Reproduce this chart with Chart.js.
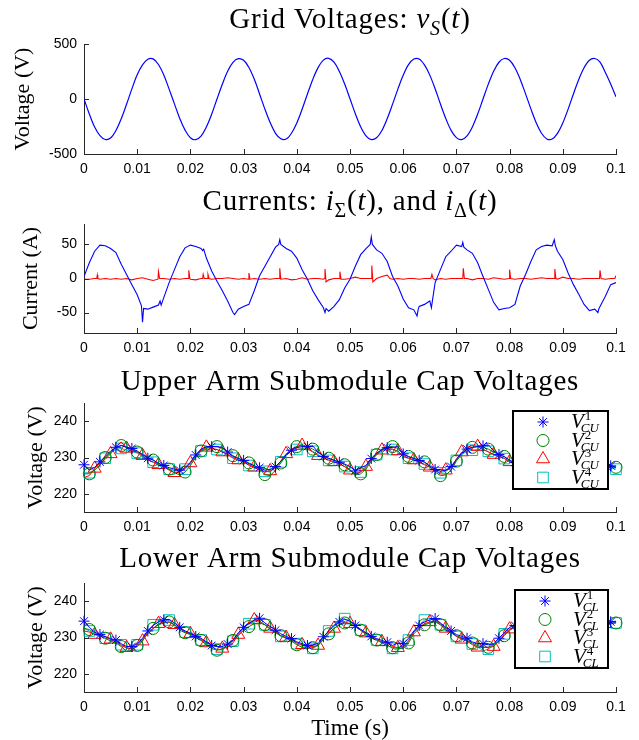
<!DOCTYPE html>
<html>
<head>
<meta charset="utf-8">
<script src="https://cdn.jsdelivr.net/npm/chart.js@4.4.1/dist/chart.umd.min.js"></script>
<style>
  body { margin: 0; background: #fff; }
  #wrap { position: relative; width: 639px; height: 740px; }
  #wrap canvas { position: absolute; left: 0; }
</style>
</head>
<body>
<div id="wrap">
  <canvas id="chartGrid" width="639" height="180" style="top:0px"></canvas>
  <canvas id="chartCurr" width="639" height="180" style="top:180px"></canvas>
  <canvas id="chartUpper" width="639" height="180" style="top:360px"></canvas>
  <canvas id="chartLower" width="639" height="200" style="top:540px"></canvas>
</div>
<script>
// sample times in ms
var timeMs = [0,1,2,3,4,5,6,7,8,9,10,11,12,13,14,15,16,17,18,19,20,21,22,23,24,25,26,27,28,29,30,31,32,33,34,35,36,37,38,39,40,41,42,43,44,45,46,47,48,49,50,51,52,53,54,55,56,57,58,59,60,61,62,63,64,65,66,67,68,69,70,71,72,73,74,75,76,77,78,79,80,81,82,83,84,85,86,87,88,89,90,91,92,93,94,95,96,97,98,99,100];

var xTicks = [0, 0.01, 0.02, 0.03, 0.04, 0.05, 0.06, 0.07, 0.08, 0.09, 0.1];
var yTicksGrid = [-500, 0, 500];
var yTicksCurr = [-50, 0, 50];
var yTicksCap = [220, 230, 240];

// grid voltage v_S (V)
var vGrid = [0,-136,-255,-333,-368,-355,-287,-180,-48,92,
  220,310,362,365,314,218,90,-44,-178,-283,
  -352,-370,-337,-254,-138,0,134,252,333,367,
  352,287,181,46,-92,-215,-312,-362,-364,-311,
  -218,-93,46,178,285,353,370,335,250,136,
  2,-134,-253,-335,-369,-352,-286,-178,-47,90,
  216,312,363,364,310,217,93,-46,-177,-285,
  -351,-369,-335,-254,-137,0,135,253,334,368,
  352,284,178,47,-90,-216,-311,-363,-364,-312,
  -218,-92,46,177,284,352,368,335,240,136,
  20];

// i_sigma (blue), times in ms
var iSigmaT = [0,1,2,3,4,5,6,7,8,9,
  10,10.8,11,11.2,12,13,14,14.3,14.5,15,
  16,17,18,19,20,21,22,22.3,22.5,23,
  24,25,26,27,28,28.3,29,30,31,32,
  33,34,35,36,36.6,36.8,37,38,39,40,
  41,42,43,44,45,45.3,45.5,46,47,48,
  49,50,51,52,53,53.8,54,54.2,55,56,
  57,58,59,60,61,62,62.6,62.8,63,64,
  65,65.3,65.5,66,67,68,69,70,71,71.2,
  71.4,72,73,74,75,76,77,78,79,80,
  81,82,83,84,85,86,87,88,88.4,88.6,
  89,90,91,92,93,94,95,96,96.6,96.8,
  97,98,99,100];
var iSigma = [3,23,40,49,48,44,38,21,6,-9,
  -24,-40,-64,-44,-45,-42,-39,-33,-39,-28,
  -6,13,32,45,49,47,44,41,43,30,
  11,-4,-18,-33,-50,-53,-45,-41,-38,-18,
  4,18,32,46,50,57,50,44,40,30,
  13,-1,-18,-31,-43,-50,-44,-48,-41,-31,
  -14,-1,18,35,44,50,61,50,42,37,
  25,3,-11,-30,-43,-46,-55,-46,-41,-38,
  -33,-43,-32,-6,13,32,40,49,47,53,
  46,42,37,23,3,-16,-35,-46,-44,-43,
  -38,-11,6,25,42,47,49,48,57,48,
  40,28,8,-9,-23,-38,-47,-45,-50,-44,
  -41,-26,-9,-6];

// i_delta (red), times in ms
var iDeltaT = [0,1,2,2.4,2.5,2.6,3,4,5,6,
  7,8,9,10,11,12,13,13.9,14,14.2,
  15,16,17,18,19,19.6,19.7,19.9,20,21,
  22,22.3,22.4,22.6,23.2,23.3,23.5,24,25,26,
  27,28,29,30,30.9,31,31.2,32,33,34,
  35,36,36.7,36.8,37,38,39,40,41,42,
  43,44,45,45.2,45.3,45.5,46,47,48,48.1,
  48.3,49,50,51,52,53,54,54.1,54.3,55,
  56,57,57.5,58,59,60,61,62,63,64,
  65.2,65.4,65.6,66,67,68,69,70,71.2,71.3,
  71.5,72,73,74,75,76,77,78,79,79.9,
  80,80.2,81,82,83,84,85,86,87,88.4,
  88.5,88.7,89,90,91,92,93,94,95,96,
  96.9,97,97.2,98,99,99.8,99.9,100];
var iDelta = [-1,-1,0,0,5,0,-1,0,-1,0,
  -1,0,-2,0,1,-1,-3,-1,10,0,
  0,-1,0,-1,0,0,12,0,-1,-2,
  0,0,6,0,0,6,0,-1,0,0,
  1,0,-1,0,-1,8,-1,0,-1,0,
  -1,0,0,15,-1,0,-2,-1,1,-1,
  0,0,-1,0,14,-5,-2,0,0,10,
  -1,-1,0,2,0,0,0,19,-5,0,
  3,5,0,-1,0,-1,0,0,-1,0,
  0,6,0,-2,0,-1,0,0,0,15,
  0,0,-2,0,0,-1,1,0,-1,0,
  13,0,-1,0,0,-1,0,1,0,0,
  14,0,-1,2,0,0,-1,0,0,0,
  0,12,0,-1,0,0,3,2];

// upper arm submodule cap voltages (V)
var vCU1 = [228,226.5,227.3,228.8,230.3,231.8,232.8,233.3,232.8,232.5,
  231.8,230.8,229.8,229.3,228.3,227.8,227.2,226.8,226.5,227.2,
  228.7,230.7,232.3,233,233,233,232.8,231.5,230.3,229.7,
  229.2,228.3,227.7,227.2,226.5,226.7,227.5,229,230.8,232,
  232.7,233,233,233.2,231.5,230.3,229.7,229.2,228.7,228.2,
  227.5,226.3,227.2,227.8,229.7,231.2,232.2,232.7,232.8,233,
  231,230.2,229.7,229.2,228.7,227.7,226.7,226.2,226.5,227.5,
  229.5,231.2,232.3,232.8,233,233.2,233.5,231.8,230.8,230.2,
  229.2,228.7,227.7,227,226.5,226.7,227.7,229.7,231.2,232.3,
  232.8,233,233,232,230.8,230.2,229.7,228.7,228.2,227.7,
  227.3];
var vCU2 = [225.5,225.5,226.5,228,230,231.5,232.8,233.3,233,232.3,
  231.5,230.8,230,229.3,228.5,227.8,226.8,225.8,225.2,226,
  227.8,230,231.8,232.5,233,233,232.5,231.5,230.5,229.8,
  229.3,228.5,227.8,226.8,225.3,225,226.5,228.5,230.5,232,
  233,233.5,233,232.3,231.5,230.5,229.8,229.3,228.8,228,
  226.5,225.2,225.5,226.8,229,230.8,232.3,233,233,232.5,
  231,230.3,229.8,229.3,228.8,227.5,226,225,225.2,226.5,
  229,231,232.3,232.8,233,232.8,232.3,231.5,230.8,230.3,
  229.3,228.3,227,226,225.5,225.8,227,229,230.8,232.3,
  233,233.2,232.8,232,231,230.3,229.8,228.8,228.3,227.8,
  227.3];
var vCU3 = [224.5,225,227,228.5,229.5,231,233,234.3,232.5,231.8,
  231.5,230.5,229.3,228.8,228,227.5,226.5,225.8,226,227,
  228.5,230.5,232,232.8,232.5,232.2,231.5,230.8,230,229.3,
  228.8,228,227.3,226.5,226,226.3,227.3,229,231,232.3,
  233,233.3,232.5,231.5,230.5,230,229.3,228.8,228.3,227.5,
  226.5,225.5,226,227.5,229.5,231,232,232.5,232.3,231.8,
  230.3,229.8,229.3,228.8,228,227.3,226.5,226.8,226.5,227.3,
  229.5,231.5,232.8,233.3,233,232.3,231.5,230.8,230.3,229.8,
  228.8,228.3,227.3,226.5,226,226.5,227.5,229.5,231,232.3,
  232.8,232.7,232.2,231.3,230.3,229.8,229.3,228.3,227.8,227.3,
  227.3];
var vCU4 = [225.8,225.8,226.5,228,229.8,231.3,232.2,232.5,232,231.6,
  231.2,230.2,229.3,228.7,227.8,227.2,226.8,226.3,226.3,226.8,
  228.3,230.2,231.8,232.2,232.3,232.2,231.6,230.7,229.8,229.2,
  228.7,227.8,227.2,226.7,226.2,226,227.3,228.8,230.8,231.8,
  232.2,232.5,232.2,231.7,230.8,229.8,229.2,228.7,228.2,227.5,
  226.5,225.5,226,227.2,229.2,230.8,231.7,232.2,232.2,231.7,
  230.2,229.8,229.2,228.7,228.2,227.3,226.3,225.8,226.2,227.3,
  229.2,230.8,231.7,232,232.2,232,231.7,230.7,230.2,229.7,
  228.7,228.2,227.2,226.5,226,226.3,227.2,229.2,230.8,231.7,
  232.2,232.3,232,231.2,230.2,229.7,229.2,228.2,227.7,227.2,
  226.8];

// lower arm submodule cap voltages (V)
var vCL1 = [234.5,232.8,231.5,230.8,230.2,229.7,229.3,228.3,227.5,227.5,
  228.3,229.8,231.8,233.3,234.3,234.8,235,234,232.8,231.8,
  231.2,230.3,229.8,228.8,227.8,227.5,227.5,228.2,229.3,231.3,
  232.8,233.8,234.8,235.3,234,233,232,231,230.3,229.7,
  228.8,228.3,227.8,228,228.3,230.2,231.8,233.3,234.3,235,
  234.5,233.3,232.3,231.3,230.3,229.7,229.2,228.7,227.8,228.5,
  228.3,229.8,231.8,233.3,234.3,234.8,235.2,234,232.8,231.8,
  230.8,230.3,229.8,228.8,228.3,228.3,228,228.2,229.8,231.3,
  232.8,233.3,234.3,234.8,234.3,233.3,232.3,231.3,230.8,230.3,
  229.3,228.8,228.2,228,228.3,229.8,231.3,232.8,233.8,234.3,
  234.3];
var vCL2 = [232.5,232.2,231.3,230.5,229.8,229,228.5,227.5,226.2,226.5,
  227.8,229.3,231,232.5,233.5,234,234.3,233.5,232,231.3,
  230.8,230,229.2,228,227,226.5,226.8,228,229.2,230.5,
  232,233,233.8,234,233.5,232.2,231.3,230.5,229.8,229,
  228,227.3,227,227.2,228,229.5,231,232.5,233.5,234,
  233.8,233,232,230.8,229.8,229.3,228.5,227.8,227.2,227,
  227,228.5,231,232.5,233.5,234,234.3,233.5,232,231.3,
  230.5,229.8,229.2,228.5,227.8,227.3,227.3,228,229,230.5,
  232,232.8,233.5,234,233.8,233,232,230.8,230.3,229.5,
  228.5,228,227.3,227.2,227.8,229,230.5,232,233,233.8,
  234];
var vCL3 = [231.8,231.5,230.8,230.5,230.3,229.5,228.8,227.8,227.2,226.8,
  227.5,229,231.5,232.5,233.8,234.3,234.2,233.5,232.5,231.5,
  231,230.5,229.5,228.5,228,227.5,227,227.3,228.5,230.8,
  232.5,234,234.8,234.5,233.5,232.5,231.5,230.5,230,229.8,
  228.5,228,227.5,227.5,227.8,229.5,231.3,232.5,233.5,234.3,
  233.8,233,232,231.2,230.3,229.5,228.8,228.5,227.5,227.2,
  227.5,229,231.5,232.8,233.8,234.3,234.5,233.8,232.5,231.5,
  230.3,229.5,229,228,227.3,227.3,227.3,227.5,229,230.8,
  232.3,233,234,234.5,234,233,232,231,230.5,230,
  229,228.5,227.8,227.3,227.8,229.3,231,232.5,233.8,234.3,
  234.5];
var vCL4 = [232.5,231.8,231,230.3,229.8,229.5,229.2,228,227,227,
  228,229.5,231.8,233.5,234.8,235.2,234.8,233.5,232.5,231.5,
  231,230,229.3,228.3,227.3,226.8,226.5,227.8,229,231,
  232.8,233.8,234.5,234.5,233.5,232.5,231.5,230.3,229.8,229.3,
  228.3,227.8,227.3,227,227.8,230,231.8,233.5,234.8,235.2,
  234.3,233,232,231,230,229.3,228.8,228,227,226.5,
  227.5,229.3,231.5,233.3,234.8,235.3,234.8,233.5,232.3,231.3,
  230.3,229.8,229.2,228.2,227.5,226.3,226.8,227.8,229.3,231,
  232.8,233.3,234.5,234.8,234,233,232,231,230.3,229.8,
  228.8,228.3,227.5,227.2,227.8,229.5,231.3,232.8,233.8,234,
  234];

var legendSup = ['1', '2', '3', '4'];

var serif = '"Liberation Serif", "Times New Roman", serif';
var sans = '"Liberation Sans", Arial, sans-serif';
var axisColor = '#262626';

function pts(tms, vals) {
  return vals.map(function (v, i) { return {x: tms[i] / 1000, y: v}; });
}

// text with italic / sub / superscript pieces
function drawRich(ctx, parts, x, y, size, align, spacing) {
  ctx.letterSpacing = (spacing || 0) + 'px';
  var items = parts.map(function (p) {
    var kind = p[1] || 'n';
    var small = kind.charAt(0) === 's';
    var italic = kind.indexOf('i') >= 0;
    var fs = small ? Math.round(size * 0.7) : size;
    var font = (italic ? 'italic ' : '') + fs + 'px ' + serif;
    ctx.font = font;
    var w = ctx.measureText(p[0]).width;
    var dy = 0;
    if (kind === 'sb' || kind === 'sbi') dy = size * 0.25;
    if (kind === 'sp') dy = -size * 0.4;
    return {text: p[0], font: font, dy: dy, adv: w};
  });
  var total = 0;
  items.forEach(function (it) { total += it.adv; });
  var cx = align === 'center' ? x - total / 2 : x;
  ctx.textAlign = 'left';
  ctx.textBaseline = 'alphabetic';
  items.forEach(function (it) {
    ctx.font = it.font;
    ctx.fillText(it.text, cx, y + it.dy);
    cx += it.adv;
  });
  ctx.letterSpacing = '0px';
}

// V with stacked super- and subscript, for the legends
function drawLegendLabel(ctx, sup, sub, x, y) {
  ctx.textAlign = 'left';
  ctx.textBaseline = 'alphabetic';
  ctx.font = 'italic 21px ' + serif;
  ctx.fillText('V', x, y);
  var w = ctx.measureText('V').width;
  ctx.font = '13px ' + serif;
  ctx.fillText(sup, x + w + 1, y - 8);
  ctx.font = 'italic 13px ' + serif;
  ctx.fillText(sub, x + w - 3, y + 4);
}

var capStyles = [
  {color: '#0000ff', style: 'star', r: 5.5, off: 0},
  {color: '#008000', style: 'circle', r: 6, off: 1},
  {color: '#ff0000', style: 'triangle', r: 7.5, off: 2},
  {color: '#00bfbf', style: 'rect', r: 7.5, off: 1}
];

var decor = {
  id: 'decor',
  afterDraw: function (chart, args, o) {
    var ctx = chart.ctx, a = chart.chartArea, sx = chart.scales.x, sy = chart.scales.y;
    ctx.save();
    // inward tick marks
    ctx.strokeStyle = axisColor;
    ctx.lineWidth = 1;
    ctx.beginPath();
    sx.ticks.forEach(function (t) {
      var px = Math.round(sx.getPixelForValue(t.value)) + 0.5;
      ctx.moveTo(px, a.bottom);
      ctx.lineTo(px, a.bottom - 5);
    });
    sy.ticks.forEach(function (t) {
      var py = Math.round(sy.getPixelForValue(t.value)) + 0.5;
      ctx.moveTo(a.left, py);
      ctx.lineTo(a.left + 5, py);
    });
    ctx.stroke();

    ctx.fillStyle = '#000';
    drawRich(ctx, o.title, (a.left + a.right) / 2, o.titleY, 29, 'center', 0.8);

    if (o.legend) {
      var L = o.legend;
      var bx = a.right - L.right - L.w, by = a.top + L.top;
      ctx.fillStyle = '#fff';
      ctx.fillRect(bx, by, L.w, L.h);
      ctx.strokeStyle = '#000';
      ctx.lineWidth = 2;
      ctx.strokeRect(bx, by, L.w, L.h);
      capStyles.forEach(function (s, i) {
        var cy = by + 11 + i * 18.5;
        ctx.strokeStyle = s.color;
        ctx.fillStyle = 'rgba(0,0,0,0)';
        ctx.lineWidth = 1;
        Chart.helpers.drawPoint(ctx, {pointStyle: s.style, radius: s.r, borderWidth: 1, rotation: 0}, bx + 30, cy);
        ctx.fillStyle = '#000';
        drawLegendLabel(ctx, legendSup[i], L.sub, bx + 58, cy + 6);
      });
    }
    ctx.restore();
  }
};

function fmt(v) { return String(Math.round(v * 1000) / 1000); }

var tickFont = {family: sans, size: 14};

function xAxis(height, title) {
  return {
    type: 'linear', min: 0, max: 0.1,
    afterBuildTicks: function (s) { s.ticks = xTicks.map(function (v) { return {value: v}; }); },
    afterFit: function (s) { s.height = height; },
    grid: {display: false, drawTicks: false},
    border: {display: true, color: axisColor, width: 1},
    ticks: {font: tickFont, color: '#000', padding: 7, maxRotation: 0, autoSkip: false, callback: fmt},
    title: title ? {display: true, text: title, color: '#000', font: {family: serif, size: 23, lineHeight: 1}, padding: {top: 0, bottom: 0}} : {display: false}
  };
}

function yAxis(min, max, ticks, label, pad) {
  return {
    type: 'linear', min: min, max: max,
    afterBuildTicks: function (s) { s.ticks = ticks.map(function (v) { return {value: v}; }); },
    afterFit: function (s) { s.width = 84; },
    grid: {display: false, drawTicks: false},
    border: {display: true, color: axisColor, width: 1},
    ticks: {font: tickFont, color: '#000', padding: 7, callback: fmt},
    title: {display: true, text: label, color: '#000', font: {family: serif, size: 22}, padding: {top: pad, bottom: 0}}
  };
}

function baseOptions(top, x, y, decorOpts) {
  return {
    responsive: false,
    animation: false,
    events: [],
    layout: {padding: {top: top, left: 0, right: 23, bottom: 0}},
    scales: {x: x, y: y},
    plugins: {legend: {display: false}, tooltip: {enabled: false}, decor: decorOpts}
  };
}

function capDatasets(series) {
  return series.map(function (vals, i) {
    var s = capStyles[i];
    return {
      data: pts(timeMs, vals),
      borderColor: s.color,
      borderWidth: 1,
      pointStyle: s.style,
      pointBorderColor: s.color,
      pointBackgroundColor: 'rgba(0,0,0,0)',
      pointBorderWidth: 1,
      pointRadius: function (c) { return c.dataIndex % 3 === s.off ? s.r : 0; },
      tension: 0,
      clip: false
    };
  });
}

new Chart(document.getElementById('chartGrid'), {
  type: 'line',
  data: {datasets: [{data: pts(timeMs, vGrid), borderColor: '#0000ff', borderWidth: 1.2, pointRadius: 0, tension: 0.35}]},
  options: baseOptions(44, xAxis(26), yAxis(-500, 500, yTicksGrid, 'Voltage (V)', 10),
    {title: [['Grid Voltages: '], ['v', 'i'], ['S', 'sbi'], ['('], ['t', 'i'], [')']], titleY: 28}),
  plugins: [decor]
});

new Chart(document.getElementById('chartCurr'), {
  type: 'line',
  data: {datasets: [
    {data: pts(iSigmaT, iSigma), borderColor: '#0000ff', borderWidth: 1.1, pointRadius: 0, tension: 0},
    {data: pts(iDeltaT, iDelta), borderColor: '#ff0000', borderWidth: 1.1, pointRadius: 0, tension: 0}
  ]},
  options: baseOptions(44, xAxis(27), yAxis(-80, 80, yTicksCurr, 'Current (A)', 18),
    {title: [['Currents: '], ['i', 'i'], ['Σ', 'sb'], ['('], ['t', 'i'], ['), and '], ['i', 'i'], ['Δ', 'sb'], ['('], ['t', 'i'], [')']], titleY: 30}),
  plugins: [decor]
});

new Chart(document.getElementById('chartUpper'), {
  type: 'line',
  data: {datasets: capDatasets([vCU1, vCU2, vCU3, vCU4])},
  options: baseOptions(43, xAxis(28), yAxis(215, 245, yTicksCap, 'Voltage (V)', 23),
    {title: [['Upper Arm Submodule Cap Voltages']], titleY: 30,
     legend: {right: 8, top: 8, w: 95, h: 78, sub: 'CU'}}),
  plugins: [decor]
});

new Chart(document.getElementById('chartLower'), {
  type: 'line',
  data: {datasets: capDatasets([vCL1, vCL2, vCL3, vCL4])},
  options: baseOptions(43, xAxis(48, 'Time (s)'), yAxis(215, 245, yTicksCap, 'Voltage (V)', 23),
    {title: [['Lower Arm Submodule Cap Voltages']], titleY: 27,
     legend: {right: 8, top: 7, w: 93, h: 78, sub: 'CL'}}),
  plugins: [decor]
});
</script>
</body>
</html>
